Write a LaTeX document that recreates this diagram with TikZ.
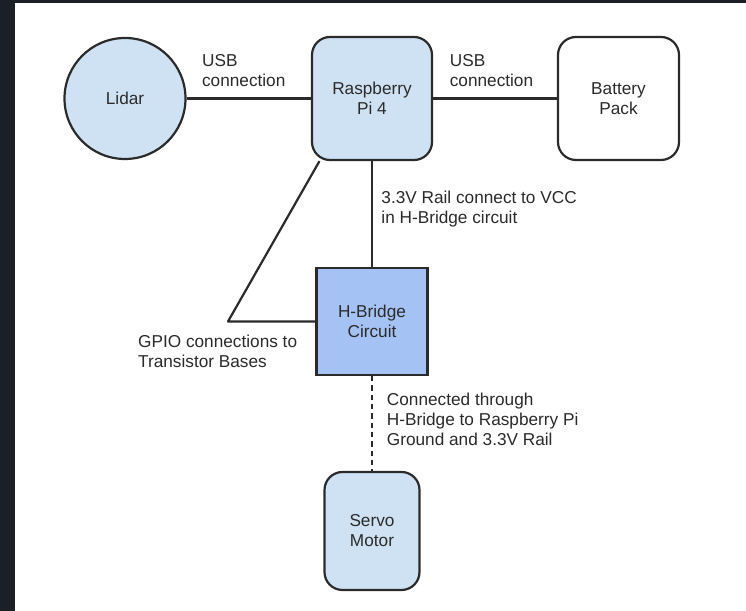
\documentclass[tikz,border=0pt]{standalone}
\usepackage{fontspec}
\setmainfont{Liberation Sans}
\usepackage{tikz}
\usetikzlibrary{positioning,calc}
\usepackage{xcolor}
\definecolor{pageback}{HTML}{1B1F28}
\definecolor{lightfill}{HTML}{CFE2F3}
\definecolor{hbfill}{HTML}{A4C2F4}
\definecolor{inkgray}{HTML}{2B2B2B}

\begin{document}
\begin{tikzpicture}[
  font=\fontsize{9.8pt}{11.4pt}\selectfont,
  block/.style={draw=inkgray, line width=1.25pt, fill=lightfill, align=center, text=inkgray},
  rblock/.style={block, rounded corners=0.36cm},
  link/.style={draw=inkgray, line width=1.25pt},
  dashlink/.style={link, dash pattern=on 3pt off 2.3pt},
  note/.style={align=left, text=inkgray}
]

% page and dark frame
\useasboundingbox (0,0) rectangle (14.92,-12.22);
\fill[pageback] (0,0) rectangle (14.92,-12.22);
\fill[white] (0.30,-0.06) rectangle (14.92,-12.22);

\node[block, circle, minimum size=2.42cm] (L) at (2.50,-1.97) {Lidar};
\node[rblock, minimum width=2.40cm, minimum height=2.46cm] (P) at (7.44,-1.97) {Raspberry\\Pi 4};
\node[rblock, fill=white, minimum width=2.42cm, minimum height=2.46cm] (B) at (12.37,-1.97) {Battery\\Pack};

\node[block, fill=hbfill, minimum width=2.22cm, minimum height=2.14cm] (H) at (7.44,-6.43) {H-Bridge\\Circuit};
\node[rblock, minimum width=1.90cm, minimum height=2.36cm] (S) at (7.44,-10.62) {Servo\\Motor};

\draw[link] (L) -- node[above=1mm, xshift=-0.1cm, note] (usbL) {USB\\connection} (P);
\draw[link] (P) -- node[above=1mm, xshift=-0.07cm, note] (usbR) {USB\\connection} (B);
\draw[link] (P) -- node[right=0.05cm, pos=0.45, note] (rail) {3.3V Rail connect to VCC\\in H-Bridge circuit} (H);

% GPIO lines to the transistor bases
\coordinate (G) at (4.56,-6.43);
\draw[link, line join=round] (P.-130) -- (G) -- (H);
\node[note, anchor=west] (gpio) at (2.64,-7.02) {GPIO connections to\\Transistor Bases};

\draw[dashlink] (H) -- node[right=0.16cm, pos=0.46, note] (gnd) {Connected through\\H-Bridge to Raspberry Pi\\Ground and 3.3V Rail} (S);

\end{tikzpicture}
\end{document}
